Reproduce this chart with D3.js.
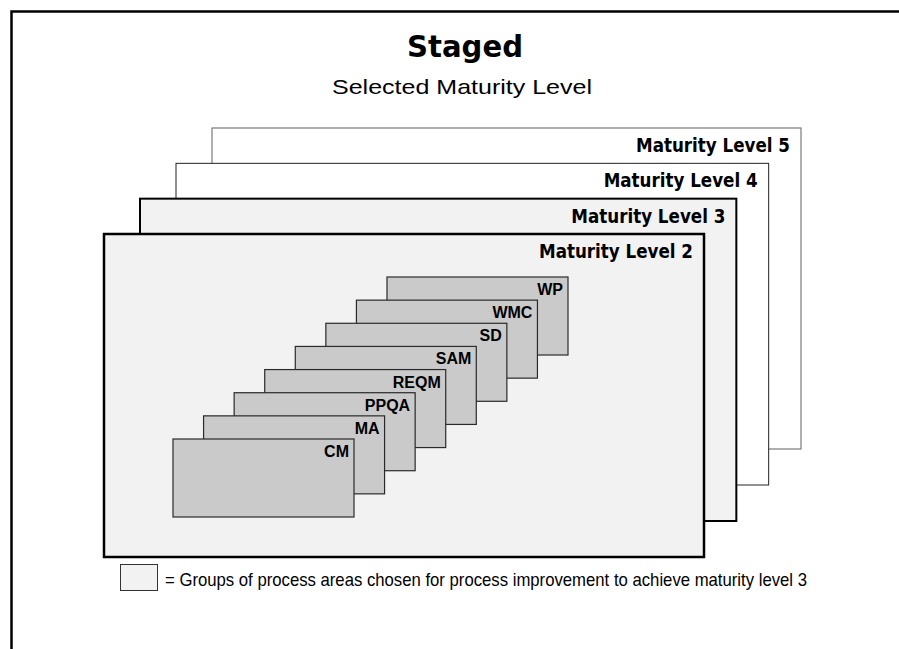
<!DOCTYPE html>
<html>
<head>
<meta charset="utf-8">
<script src="https://cdn.jsdelivr.net/npm/d3@7"></script>
<style>
  body { margin: 0; background: #fff; }
  svg { display: block; }
</style>
</head>
<body>
<script>
// maturity levels, front (2) to back (5)
const levels = ['Maturity Level 2', 'Maturity Level 3', 'Maturity Level 4', 'Maturity Level 5']
const levelNumbers = [2, 3, 4, 5]
const selectedLevel = 3

// process areas of level 2, front to back
const processAreas = ['CM', 'MA', 'PPQA', 'REQM', 'SAM', 'SD', 'WMC', 'WP']

const titleText = 'Staged'
const subtitleText = 'Selected Maturity Level'
const legendText = '= Groups of process areas chosen for process improvement to achieve maturity level 3'

const W = 899, H = 649
const svg = d3.select('body').append('svg').attr('width', W).attr('height', H)

// outer frame, runs off the right and bottom edges
svg.append('rect')
  .attr('x', 11.5).attr('y', 11.5).attr('width', W).attr('height', H)
  .attr('fill', '#fff').attr('stroke', '#000').attr('stroke-width', 2.5)

svg.append('text')
  .attr('x', 465).attr('y', 57).attr('text-anchor', 'middle')
  .attr('font-family', 'DejaVu Sans, sans-serif').attr('font-weight', 700).attr('font-size', 30)
  .attr('textLength', 116).attr('lengthAdjust', 'spacingAndGlyphs')
  .text(titleText)

svg.append('text')
  .attr('x', 462).attr('y', 94).attr('text-anchor', 'middle')
  .attr('font-family', 'Liberation Sans, Arial, sans-serif').attr('font-size', 21)
  .attr('textLength', 260).attr('lengthAdjust', 'spacingAndGlyphs')
  .text(subtitleText)

// ── Maturity level cards ────────────────────────────────────────────────────
const li = d3.range(levels.length)
const lvLeft = d3.scaleLinear().domain([0, levels.length - 1]).range([104, 212])
const lvTop = d3.scaleLinear().domain([0, levels.length - 1]).range([234, 128])
const lvRight = d3.scaleLinear().domain([0, levels.length - 1]).range([704, 801])
const lvBottom = d3.scaleLinear().domain([0, levels.length - 1]).range([557, 449])

const levelStroke = { 2: ['#000', 2.5], 3: ['#000', 2], 4: ['#222', 1], 5: ['#7a7a7a', 1.2] }

const lvG = svg.append('g').selectAll('g')
  .data(li.slice().reverse())
  .join('g')

lvG.append('rect')
  .attr('x', i => lvLeft(i)).attr('y', i => lvTop(i))
  .attr('width', i => lvRight(i) - lvLeft(i))
  .attr('height', i => lvBottom(i) - lvTop(i))
  .attr('fill', i => levelNumbers[i] <= selectedLevel ? '#f2f2f2' : '#fff')
  .attr('stroke', i => levelStroke[levelNumbers[i]][0])
  .attr('stroke-width', i => levelStroke[levelNumbers[i]][1])

lvG.append('text')
  .attr('x', i => lvRight(i) - 11).attr('y', i => lvTop(i) + 24)
  .attr('text-anchor', 'end')
  .attr('font-family', 'DejaVu Sans, sans-serif').attr('font-weight', 700).attr('font-size', 19)
  .attr('textLength', 154).attr('lengthAdjust', 'spacingAndGlyphs')
  .text(i => levels[i])

// ── Process area cards ──────────────────────────────────────────────────────
const pi = d3.range(processAreas.length)
const paX = d3.scaleLinear().domain([0, processAreas.length - 1]).range([173, 387])
const paY = d3.scaleLinear().domain([0, processAreas.length - 1]).range([439, 277])
const paW = 181, paH = 78

const paG = svg.append('g').selectAll('g')
  .data(pi.slice().reverse())
  .join('g')

paG.append('rect')
  .attr('x', i => paX(i)).attr('y', i => paY(i))
  .attr('width', paW).attr('height', paH)
  .attr('fill', '#cacaca').attr('stroke', '#2a2a2a').attr('stroke-width', 1.2)

paG.append('text')
  .attr('x', i => paX(i) + paW - 5).attr('y', i => paY(i) + 18)
  .attr('text-anchor', 'end')
  .attr('font-family', 'Liberation Sans, Arial, sans-serif').attr('font-weight', 700).attr('font-size', 16)
  .text(i => processAreas[i])

// ── Legend ──────────────────────────────────────────────────────────────────
svg.append('rect')
  .attr('x', 120.5).attr('y', 564.5).attr('width', 37).attr('height', 26)
  .attr('fill', '#f2f2f2').attr('stroke', '#333').attr('stroke-width', 1)

svg.append('text')
  .attr('x', 165).attr('y', 586)
  .attr('font-family', 'Liberation Sans, Arial, sans-serif').attr('font-size', 18.5)
  .attr('textLength', 642).attr('lengthAdjust', 'spacingAndGlyphs')
  .text(legendText)
</script>
</body>
</html>
